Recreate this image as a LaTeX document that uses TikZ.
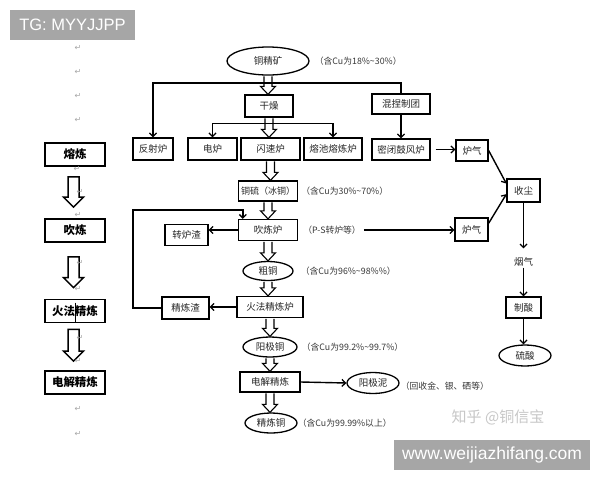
\documentclass[tikz,border=0pt]{standalone}
\usepackage{fontspec}
\setmainfont{Noto Sans CJK SC}
\newfontfamily\latinsans{Liberation Sans}
\newfontfamily\symfont{DejaVu Sans}
\usetikzlibrary{positioning,arrows.meta,calc,shapes.geometric}
\colorlet{inkc}{black!85}
\colorlet{notec}{black!78}
\colorlet{bannerc}{black!35}
\tikzset{
  stage/.style  = {draw, line width=1.3pt, inner sep=0pt, minimum height=22pt,
                   font=\fontsize{9.5}{11}\selectfont, text=inkc},
  prod/.style   = {ellipse, draw, line width=1.3pt, inner sep=0pt, minimum height=20pt,
                   font=\fontsize{9.5}{11}\selectfont, text=inkc},
  phase/.style  = {draw, line width=1.8pt, inner sep=0pt, minimum width=60pt, minimum height=23pt,
                   font=\bfseries\fontsize{11.5}{13}\selectfont},
  note/.style   = {inner sep=0pt, font=\fontsize{8.8}{10}\selectfont, text=notec},
  flow/.style   = {-{Straight Barb[length=3.5pt, width=7pt, line width=1.3pt]}, line width=1.4pt},
  link/.style   = {line width=1.4pt},
  hollow/.style = {draw, fill=white, line width=1.1pt},
  pmark/.style  = {inner sep=0pt, font=\symfont\fontsize{8}{8}\selectfont, text=black!35},
  banner/.style = {fill=bannerc, text=white, inner sep=0pt, font=\latinsans\fontsize{16.5}{18}\selectfont},
}

\begin{document}
\begin{tikzpicture}[x=1pt, y=-1pt]
\path[fill=white, use as bounding box] (0,0) rectangle (600,480);

% left column: the four stages
\node[phase] (lsmelt) at (75,154.5) {熔炼};
\node[phase] (lblow) at (75,230.5) {吹炼};
\node[phase] (lfire) at (75,311) {火法精炼};
\node[phase] (lelectro) at (75,382.5) {电解精炼};
\draw[line width=0.9pt] ($(lfire.north)+(0,4)$) -- (lfire.south);

\foreach \a/\b/\ua/\ub in {lsmelt/lblow/10/11, lblow/lfire/14/11, lfire/lelectro/6/9}{
  \coordinate (hs) at ($(\a.south)+(-1.5,\ua)$);
  \coordinate (hb) at (\a.south |- \b.north);
  \coordinate (ht) at ($(hb)+(-1.5,-\ub)$);
  \draw[hollow, line width=1.5pt] ($(hs)+(-5.5,0)$) -- ($(ht)+(-5.5,-10)$) -- ($(ht)+(-10,-10)$)
    -- (ht) -- ($(ht)+(10,-10)$) -- ($(ht)+(5.5,-10)$) -- ($(hs)+(5.5,0)$) -- cycle;
}

\foreach \x/\y in {78/48, 78/72, 78/96, 78/120, 77/169, 80/192, 78/215, 80/263,
                   78/289, 80/338, 78/361, 78/409, 78/434}
  \node[pmark] (pm\y) at (\x,\y) {↵};

% main flow
\node[prod, minimum width=82pt, minimum height=28pt] (ore) at (268,61) {铜精矿};
\node[stage, minimum width=48pt] (dry) at (269,106) {干燥};
\node[stage, minimum width=58pt, minimum height=20pt] (mix) at (401,104) {混捏制团};

\node[stage, minimum width=40pt] (reverb) at (153,149) {反射炉};
\node[stage, minimum width=49pt] (elec) at (212.5,149) {电炉};
\node[stage, minimum width=59pt] (flash) at (270.5,149) {闪速炉};
\node[stage, minimum width=58pt] (bath) at (333,149) {熔池熔炼炉};
\node[stage, minimum width=58pt, minimum height=21pt] (blast) at (401,149.5) {密闭鼓风炉};
\node[stage, minimum width=32pt, minimum height=21pt] (gas1) at (472,150.5) {炉气};

\node[stage, minimum width=59pt, minimum height=20pt, font=\fontsize{9}{10}\selectfont] (matte) at (268,191) {铜硫（冰铜）};
\node[stage, minimum width=59pt, minimum height=21pt] (conv) at (268,230) {吹炼炉};
\node[stage, minimum width=43pt, minimum height=21pt] (slag1) at (186.5,235) {转炉渣};
\node[stage, minimum width=33pt, minimum height=23pt] (gas2) at (471.5,229.5) {炉气};
\node[prod, minimum width=50pt, minimum height=19pt] (blister) at (268,271) {粗铜};
\node[stage, minimum width=66pt, minimum height=21pt] (fire) at (270,307) {火法精炼炉};
\node[stage, minimum width=47pt] (slag2) at (185.5,308) {精炼渣};
\node[prod, minimum width=54pt] (anode) at (270,347) {阳极铜};
\node[stage, minimum width=60pt, minimum height=20pt] (electro) at (270,382) {电解精炼};
\node[prod, minimum width=52pt, minimum height=21pt] (mud) at (373,383) {阳极泥};
\node[prod, minimum width=52pt] (refined) at (271,423) {精炼铜};

% gas treatment
\node[stage, minimum width=33pt, minimum height=23pt] (dust) at (523.5,190.5) {收尘};
\node[inner sep=1pt, font=\fontsize{9.5}{11}\selectfont, text=inkc] (smoke) at (523.5,262) {烟气};
\node[stage, minimum width=35pt, minimum height=21pt] (acid) at (523.5,307.5) {制酸};
\node[prod, minimum width=52pt, minimum height=21pt] (sulf) at (525,355.5) {硫酸};

% contents
\node[note, right=5pt of ore] (orenote) {（含Cu为18\%\textasciitilde30\%）};
\node[note, right=3pt of matte] (mattenote) {（含Cu为30\%\textasciitilde70\%）};
\node[note, right=5pt of conv] (convnote) {（P-S转炉等）};
\node[note, right=7pt of blister] (blisternote) {（含Cu为96\%\textasciitilde98\%\%）};
\node[note, right=4pt of anode] (anodenote) {（含Cu为99.2\%\textasciitilde99.7\%）};
\node[note, right=1pt of mud, yshift=-3pt] (mudnote) {（回收金、银、硒等）};
\node[note, right=0pt of refined] (refinednote) {（含Cu为99.99\%以上）};

\foreach \a/\b in {ore/dry, dry/flash, flash/matte, matte/conv, conv/blister,
                   blister/fire, fire/anode, anode/electro, electro/refined}{
  \coordinate (hs) at ($(\a.south)+(0,0.6)$);
  \coordinate (ht) at (\a.south |- \b.north);
  \draw[hollow] ($(hs)+(-4,0)$) -- ($(ht)+(-4,-8)$) -- ($(ht)+(-7.5,-8)$) -- (ht)
    -- ($(ht)+(7.5,-8)$) -- ($(ht)+(4,-8)$) -- ($(hs)+(4,0)$);
}

\coordinate (fork1) at ($(ore.south)!0.4!(dry.north)$);
\draw[flow] (fork1) -| (reverb.north);
\draw[link] (fork1) -| (mix.north);
\coordinate (fork2) at ($(dry.south)!0.3!(flash.north)$);
\draw[flow] (fork2) -| (elec.north);
\draw[flow] (fork2) -| (bath.north);
\draw[flow] (mix) -- (blast);
\draw[flow, shorten <=5pt] (blast.east) -- (blast.east -| gas1.west);
\draw[flow] (gas1.east) -- (dust.158);
\draw[flow, shorten <=3pt] (convnote.east) -- (convnote.east -| gas2.west);
\draw[flow] (gas2.20) -- (dust.192);
\draw[flow] (conv.west) -- (conv.west -| slag1.east);
\draw[flow] (fire.west) -- (fire.west -| slag2.east);
\coordinate (loopc) at (133,210);
\draw[flow] (slag2.west) -| (loopc) -| ($(conv.north west)+(5,0)$);
\draw[flow] (electro.east) -- (mud.west);
\draw[flow, shorten >=8pt] (dust) -- (smoke);
\draw[flow] (smoke) -- (acid);
\draw[flow] (acid.south) -- (acid.south |- sulf.north);

% watermarks
\node[font=\fontsize{15}{16}\selectfont, text=black!22] (zhihu) at (498,417) {知乎 @铜信宝};
\node[banner, minimum width=125pt, minimum height=30pt] (tg) at (72.5,25) {TG: MYYJJPP};
\node[banner, minimum width=196pt, minimum height=30pt,
      font=\latinsans\fontsize{17.5}{19}\selectfont] (site) at (492,455) {www.weijiazhifang.com};

\end{tikzpicture}
\end{document}
